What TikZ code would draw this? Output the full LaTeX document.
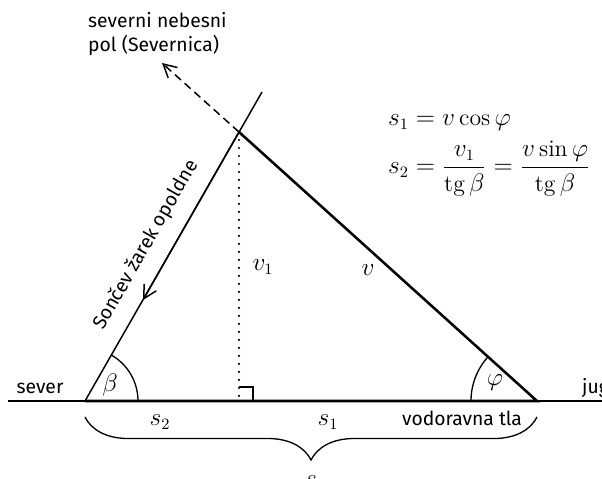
\documentclass[tikz,border=0pt]{standalone}
\usepackage{amsmath}
\usepackage{fontspec}
\setsansfont{Fira Sans}
\usetikzlibrary{arrows.meta,decorations.pathreplacing,positioning}
\DeclareMathOperator{\tg}{tg}

\begin{document}
\begin{tikzpicture}[x=0.02cm,y=-0.02cm,
  ground/.style={line width=0.75pt},
  side/.style={line width=1.45pt},
  ray/.style={line width=0.85pt},
  flow/.style={-{Straight Barb[length=2.6mm,width=2.8mm]},line width=0.85pt},
  lab/.style={font=\sffamily\fontsize{11}{14}\selectfont,align=left},
  mlab/.style={font=\fontsize{13.5}{16}\selectfont,inner sep=1pt}
]
\useasboundingbox (0,0) rectangle (602,478);
% triangle corners
\coordinate (A) at (85,401);
\coordinate (B) at (239,132);
\coordinate (C) at (537,401);
\coordinate (F) at (239,401);
\coordinate (R) at (262,92);
\coordinate (P) at (162,63);
\coordinate (G1) at (8,401);
\coordinate (G2) at (610,401);
\coordinate (rayarr) at (143,300);

\draw[ground] (G1) -- (G2);
\draw[side] (A) -- (C) -- (B);
\draw[ray] (R) -- (A);
\draw[flow] (B) -- (rayarr);
\draw[flow,dash pattern=on 0.16cm off 0.1cm] (B) -- (P);
\draw[line width=1.4pt,line cap=round,dash pattern=on 0pt off 4.55pt] (B) -- (F);
\draw[ground] (239,387) -- (253,387) -- (253,401);

% angles
\draw[ground] (A) ++(53,0) arc[start angle=0,end angle=-60,radius=53];
\draw[ground] (C) ++(-66,0) arc[start angle=180,end angle=222.07,radius=66];
\node[mlab] (beta) at (110,385) {$\beta$};
\node[mlab] (phi) at (495,383) {$\varphi$};

% labels
\node[lab,anchor=west] (pole) at (82,34) {severni nebesni\\pol (Severnica)};
\path (A) -- node[lab,sloped,above=5pt,pos=0.465] (raylab) {Sončev žarek opoldne} (R);
\node[lab] (north) at (40,388) {sever};
\node[lab,anchor=west] (south) at (576,388) {jug};
\node[lab] (plane) at (462,418) {vodoravna tla};
\node[mlab] (vone) at (263,267) {$v_1$};
\node[mlab] (vlab) at (368,270) {$v$};
\node[mlab] (stwo) at (160,422) {$s_2$};
\node[mlab] (sone) at (328,422) {$s_1$};

% brace under the base
\coordinate (bl) at (85,417);
\coordinate (br) at (537,417);
\draw[ground,decorate,decoration={brace,mirror,amplitude=0.86cm}] (bl) -- (br);
\node[mlab] (stot) at (311,481) {$s$};

% formulas
\node[mlab,anchor=west] (eqs) at (386,151) {$\begin{aligned}
  s_1 &= v\cos\varphi\\
  s_2 &= \dfrac{v_1}{\tg\beta} = \dfrac{v\sin\varphi}{\tg\beta}
\end{aligned}$};
\end{tikzpicture}
\end{document}
